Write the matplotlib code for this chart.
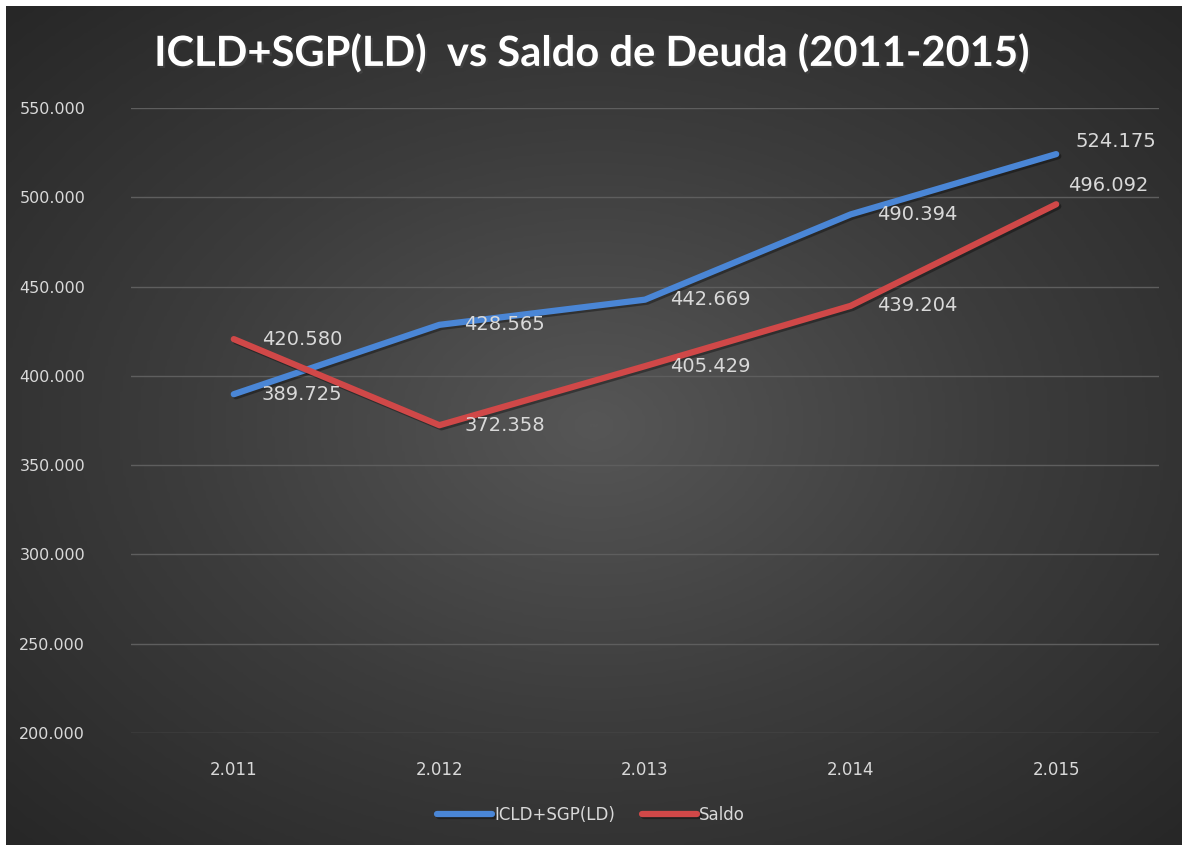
import numpy as np
import matplotlib.pyplot as plt
import matplotlib.patheffects as pe
from matplotlib.colors import LinearSegmentedColormap

years = ['2.011', '2.012', '2.013', '2.014', '2.015']
icld = [389.725, 428.565, 442.669, 490.394, 524.175]
saldo = [420.580, 372.358, 405.429, 439.204, 496.092]
yticks = [200, 250, 300, 350, 400, 450, 500, 550]

BLUE = '#4a86d6'
RED = '#d04848'
TXT = '#d9d9d9'

W, H = 1182, 850
fig = plt.figure(figsize=(W / 100, H / 100), dpi=100, facecolor='white')

# radial gradient background (Excel dark style)
bg = fig.add_axes([6 / W, 5 / H, 1 - 6 / W, 1 - 11 / H])
bg.set_axis_off()
gx, gy = np.meshgrid(np.linspace(-1, 1, 400), np.linspace(-1, 1, 300))
r = np.clip(np.sqrt(gx ** 2 + gy ** 2) / np.sqrt(2), 0, 1)
cmap = LinearSegmentedColormap.from_list('bg', ['#565656', '#3c3c3c', '#272727'])
bg.imshow(r, cmap=cmap, aspect='auto', extent=[0, 1, 0, 1], interpolation='bilinear')
bg.set_xlim(0, 1)
bg.set_ylim(0, 1)

ax = fig.add_axes([131 / W, 1 - 733 / H, 1028 / W, 625 / H])
ax.set_facecolor('none')
x = np.arange(len(years))

shadow = [pe.SimpleLineShadow(offset=(1.5, -1.5), alpha=0.35, shadow_color='black'), pe.Normal()]
l1, = ax.plot(x, icld, color=BLUE, lw=4.5, solid_capstyle='round', solid_joinstyle='round',
              path_effects=shadow, label='ICLD+SGP(LD)', zorder=3)
l2, = ax.plot(x, saldo, color=RED, lw=4.5, solid_capstyle='round', solid_joinstyle='round',
              path_effects=shadow, label='Saldo', zorder=3)

# label nudges in pixels (right of point, last point moved up a bit)
nudge_icld = [(28, 0), (25, 0), (25, 0), (26, 0), (19, 13)]
nudge_saldo = [(28, 0), (25, 0), (25, 0), (26, 0), (12, 19)]
for i in range(len(years)):
    ax.annotate(f'{icld[i]:.3f}', (x[i], icld[i]), xytext=nudge_icld[i], textcoords='offset pixels',
                ha='left', va='center', color=TXT, fontsize=14, zorder=4)
    ax.annotate(f'{saldo[i]:.3f}', (x[i], saldo[i]), xytext=nudge_saldo[i], textcoords='offset pixels',
                ha='left', va='center', color=TXT, fontsize=14, zorder=4)

ax.set_xlim(-0.5, 4.5)
ax.set_ylim(200, 550)
ax.set_xticks(x)
ax.set_xticklabels(years)
ax.set_yticks(yticks)
ax.set_yticklabels([f'{v}.000' for v in yticks])
ax.tick_params(axis='y', length=0, pad=33, colors=TXT, labelsize=11.5)
ax.tick_params(axis='x', length=0, pad=20, colors=TXT, labelsize=12)
ax.grid(axis='y', color='#5e5e5e', lw=1)
ax.set_axisbelow(True)
for s in ax.spines.values():
    s.set_visible(False)

fig.text(0.5, 1 - 53 / H, 'ICLD+SGP(LD)  vs Saldo de Deuda (2011-2015)', ha='center', va='center',
         color='white', fontsize=30, fontweight='bold', family=['Lato', 'DejaVu Sans'],
         path_effects=[pe.withSimplePatchShadow(offset=(1.5, -1.5), alpha=0.5)])

fig.legend(handles=[l1, l2], loc='center', bbox_to_anchor=(0.5, 1 - 815 / H), ncol=2, frameon=False,
           fontsize=12, labelcolor=TXT, handlelength=3.3, handletextpad=0.15, columnspacing=1.6)

fig.savefig('out.png', dpi=100, facecolor='white')
